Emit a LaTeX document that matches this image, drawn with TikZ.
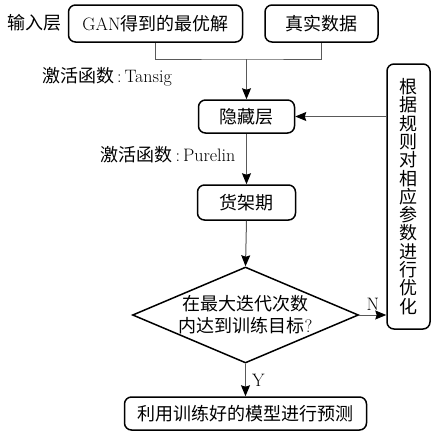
\documentclass[tikz,border=0pt]{standalone}
\usepackage{fontspec}
\newfontfamily\cjk{Noto Sans CJK SC}
\usetikzlibrary{shapes.geometric,arrows.meta}
\begin{document}
\begin{tikzpicture}[x=1pt,y=-1pt,
  txt/.style={inner sep=0pt, align=center, font=\fontsize{18}{18.3}\selectfont},
  box/.style={txt, draw, line width=1.5pt, rounded corners=7pt},
  conn/.style={draw=black!65, line width=1pt},
  arr/.style={conn, -{Stealth[length=11pt,width=9pt,inset=1.5pt,fill=black,color=black]}}
]
\useasboundingbox (0,0) rectangle (431,432);

\node[box, minimum width=174pt, minimum height=37pt] (gan) at (155.5,23.5) {GAN{\cjk 得到的最优解}};
\node[box, minimum width=113pt, minimum height=37pt] (real) at (321.5,23.5) {\cjk 真实数据};
\node[txt] (inl) at (35,23) {\cjk 输入层};

\node[box, minimum width=96pt, minimum height=33pt] (hid) at (246.5,116.5) {\cjk 隐藏层};
\node[box, minimum width=98pt, minimum height=35pt] (shelf) at (246.5,202.5) {\cjk 货架期};
\node[diamond, draw, line width=1.5pt, inner sep=0pt, aspect=2.35, minimum width=226pt, minimum height=96pt, txt, font=\fontsize{18}{22}\selectfont] (dec) at (245.5,315) {{\cjk 在最大迭代次数}\\{\cjk 内达到训练目标}?};
\node[box, minimum width=242pt, minimum height=33pt] (bot) at (245.5,413.5) {\cjk 利用训练好的模型进行预测};
\node[box, minimum width=43pt, minimum height=265pt, text width=20pt] (right) at (408.5,196.5) {\cjk 根\\据\\规\\则\\对\\相\\应\\参\\数\\进\\行\\优\\化};

\node[txt] (l1) at (107,77) {{\cjk 激活函数}\,:\,Tansig};
\node[txt] (l2) at (168,155) {{\cjk 激活函数}\,:\,Purelin};

\coordinate (j) at (246.5,59);
\draw[conn] (gan.south) |- (j) -| (real.south);
\draw[arr] (j) -- (hid.north);
\draw[arr] (hid.south) -- (shelf.north);
\draw[arr] (shelf.south) -- (dec.north);
\draw[arr] (right.west |- hid.east) -- (hid.east);
\draw[arr] (dec.east) -- node[txt, above=4pt] (nl) {N} (dec.east -| right.west);
\draw[arr] (dec.south) -- node[txt, right=6pt] (yl) {Y} (bot.north);
\end{tikzpicture}
\end{document}
